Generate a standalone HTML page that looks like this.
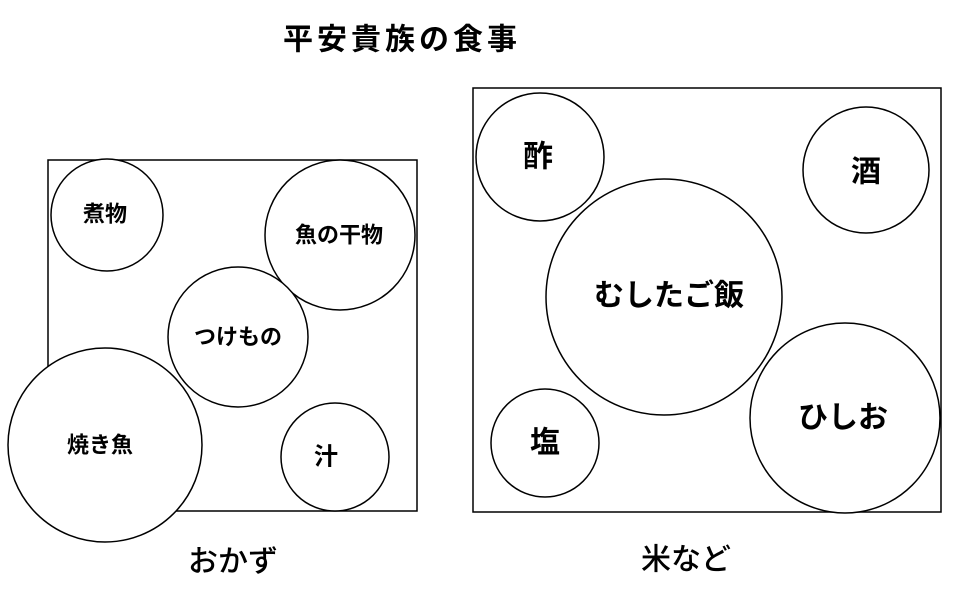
<!DOCTYPE html>
<html><head><meta charset="utf-8"><style>
html,body{margin:0;padding:0;background:#fff;width:959px;height:591px;overflow:hidden}
svg text{font-family:"Liberation Sans","Noto Sans CJK JP",sans-serif;fill:#000;text-anchor:middle;dominant-baseline:central}
</style></head><body>
<svg width="959" height="591" xmlns="http://www.w3.org/2000/svg">
<rect width="959" height="591" fill="#fff"/>
<text x="402" y="40" font-size="30" font-weight="bold" letter-spacing="4">平安貴族の食事</text>
<g fill="#fff" stroke="#000" stroke-width="1.5">
<rect x="48" y="160" width="369" height="351"/>
<rect x="473" y="88" width="468" height="424"/>
<circle cx="107" cy="215" r="56"/>
<circle cx="340" cy="235" r="75"/>
<circle cx="238" cy="337" r="70"/>
<circle cx="105" cy="445" r="97"/>
<circle cx="335" cy="457" r="54"/>
<circle cx="540" cy="157" r="64"/>
<circle cx="866" cy="170" r="63"/>
<circle cx="664" cy="297" r="118"/>
<circle cx="845" cy="418" r="95"/>
<circle cx="545" cy="443" r="54"/>
</g>
<g font-weight="bold">
<text x="105" y="214" font-size="22">煮物</text>
<text x="339" y="235" font-size="22">魚の干物</text>
<text x="238" y="337" font-size="22">つけもの</text>
<text x="100" y="445" font-size="22">焼き魚</text>
<text x="326" y="457" font-size="24">汁</text>
<text x="538" y="157" font-size="30">酢</text>
<text x="866" y="172" font-size="30">酒</text>
<text x="669" y="296" font-size="30">むしたご飯</text>
<text x="843" y="418" font-size="30">ひしお</text>
<text x="545" y="443" font-size="30">塩</text>
</g>
<g font-weight="500">
<text x="233" y="562" font-size="30">おかず</text>
<text x="686" y="560" font-size="30">米など</text>
</g>
</svg>
</body></html>
